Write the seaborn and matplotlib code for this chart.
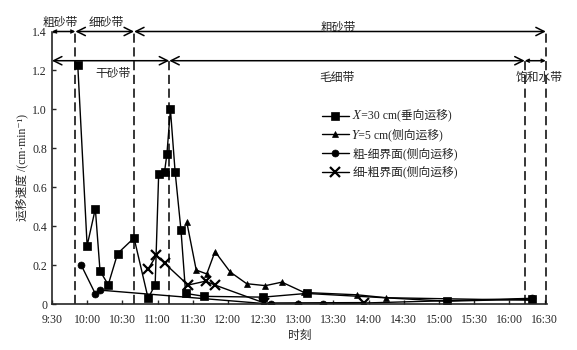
import matplotlib
matplotlib.use('Agg')
import matplotlib.pyplot as plt
import seaborn as sns
import pandas as pd

sns.set_style('ticks')
plt.rcParams['font.family'] = ['Liberation Serif', 'STIXGeneral', 'Noto Sans CJK SC', 'DejaVu Sans']
plt.rcParams['font.size'] = 8.5

# data (time of day, migration speed cm/min)
sq_t = ['9:52', '10:00', '10:07', '10:11', '10:18', '10:26', '10:40', '10:52', '10:58', '11:01', '11:06',
        '11:08', '11:11', '11:15', '11:20', '11:24', '11:40', '12:30', '13:07', '15:07', '16:19']
sq_v = [1.23, 0.30, 0.49, 0.17, 0.10, 0.26, 0.34, 0.03, 0.10, 0.67, 0.68,
        0.77, 1.00, 0.68, 0.38, 0.055, 0.04, 0.036, 0.055, 0.015, 0.026]

tri_t = ['11:25', '11:33', '11:42', '11:49', '12:02', '12:16', '12:32', '12:46', '13:05', '13:50', '14:15', '16:19']
tri_v = [0.42, 0.175, 0.155, 0.27, 0.165, 0.105, 0.095, 0.113, 0.06, 0.048, 0.033, 0.02]

circ_t = ['9:55', '10:07', '10:11', '12:37', '13:00', '13:21', '16:19']
circ_v = [0.20, 0.053, 0.072, 0.0, 0.0, 0.0, 0.03]

xm_t = ['10:52', '10:59', '11:06', '11:26', '11:41', '11:49', '12:31', '13:56']
xm_v = [0.18, 0.25, 0.21, 0.098, 0.118, 0.098, 0.006, 0.008]

labels = ['\U0001D44B=30 cm(垂向运移)', '\U0001D44C=5 cm(侧向运移)', '粗-细界面(侧向运移)', '细-粗界面(侧向运移)']

# zone boundaries
bound_top = ['9:30', '9:50', '10:40', '16:31']     # 粗砂带 | 细砂带 | 粗砂带
bound_low = ['9:30', '11:10', '16:13', '16:31']    # 干砂带 | 毛细带 | 饱和水带
zones_top = ['粗砂带', '细砂带', '粗砂带']
zones_low = ['干砂带', '毛细带', '饱和水带']

tick_t = ['9:30', '10:00', '10:30', '11:00', '11:30', '12:00', '12:30', '13:00',
          '13:30', '14:00', '14:30', '15:00', '15:30', '16:00', '16:30']


def mins(t):
    h, m = t.split(':')
    return (int(h) - 9) * 60 + int(m) - 30


fig = plt.figure(figsize=(5.77, 3.5), dpi=100)
ax = fig.add_axes([0.090, 0.131, 0.858, 0.779])

series = [(sq_t, sq_v, 's', 6), (tri_t, tri_v, '^', 5), (circ_t, circ_v, 'o', 5), (xm_t, xm_v, 'x', 7)]
for (t, v, mk, ms), lab in zip(series, labels):
    df = pd.DataFrame({'t': [mins(s) for s in t], 'v': v})
    sns.lineplot(data=df, x='t', y='v', ax=ax, color='black', linewidth=1, marker=mk, markersize=ms,
                 markeredgewidth=1.6 if mk == 'x' else 0.5, markeredgecolor='black',
                 sort=False, estimator=None, label=lab)

ax.set_xlim(0, 422)
ax.set_ylim(0, 1.4)
ax.set_xticks([mins(s) for s in tick_t])
ax.set_xticklabels(tick_t)
ax.set_yticks([0, 0.2, 0.4, 0.6, 0.8, 1.0, 1.2, 1.4])
ax.set_yticklabels(['0', '0.2', '0.4', '0.6', '0.8', '1.0', '1.2', '1.4'])
ax.tick_params(direction='in', length=3, width=1, labelsize=8.5)
ax.tick_params(axis='x', pad=7)
ax.spines['top'].set_visible(False)
ax.spines['right'].set_visible(False)
ax.spines['left'].set_linewidth(1.2)
ax.spines['bottom'].set_linewidth(1.2)
ax.set_xlabel('时刻', fontsize=8.5, labelpad=3)
ax.set_ylabel('运移速度 /(cm·min⁻¹)', fontsize=8.5, labelpad=3)

# dashed boundaries
for t in bound_top[1:3] + bound_top[3:]:
    ax.plot([mins(t), mins(t)], [0, 1.4], color='black', linestyle=(0, (6, 3)), linewidth=1.1, clip_on=False)
for t in bound_low[1:3]:
    ax.plot([mins(t), mins(t)], [0, 1.25], color='black', linestyle=(0, (6, 3)), linewidth=1.1, clip_on=False)

# zone arrows
for row, y in ((bound_top, 1.4), (bound_low, 1.25)):
    for a, b in zip(row[:-1], row[1:]):
        span = mins(b) - mins(a)
        hl, hw = (0.25, 0.12) if span < 25 else (0.7, 0.35)
        ax.annotate('', xy=(mins(b), y), xytext=(mins(a), y), annotation_clip=False,
                    arrowprops=dict(arrowstyle='<->,head_length=%s,head_width=%s' % (hl, hw),
                                    color='black', lw=1.1, shrinkA=0, shrinkB=0))

top_pos = [(7, 1.445), (46, 1.445), (244, 1.418)]
low_pos = [(52, 1.18), (243, 1.16), (415, 1.16)]
for txt, (x, y) in zip(zones_top, top_pos):
    ax.text(x, y, txt, ha='center', va='center', fontsize=8.5, clip_on=False)
for txt, (x, y) in zip(zones_low, low_pos):
    ax.text(x, y, txt, ha='center', va='center', fontsize=8.5, clip_on=False)

ax.legend(loc='upper left', bbox_to_anchor=(0.545, 0.712), frameon=False, fontsize=8.5,
          handlelength=2.3, handletextpad=0.3, labelspacing=0.5, borderpad=0, borderaxespad=0)

fig.savefig('out.png', dpi=100)
